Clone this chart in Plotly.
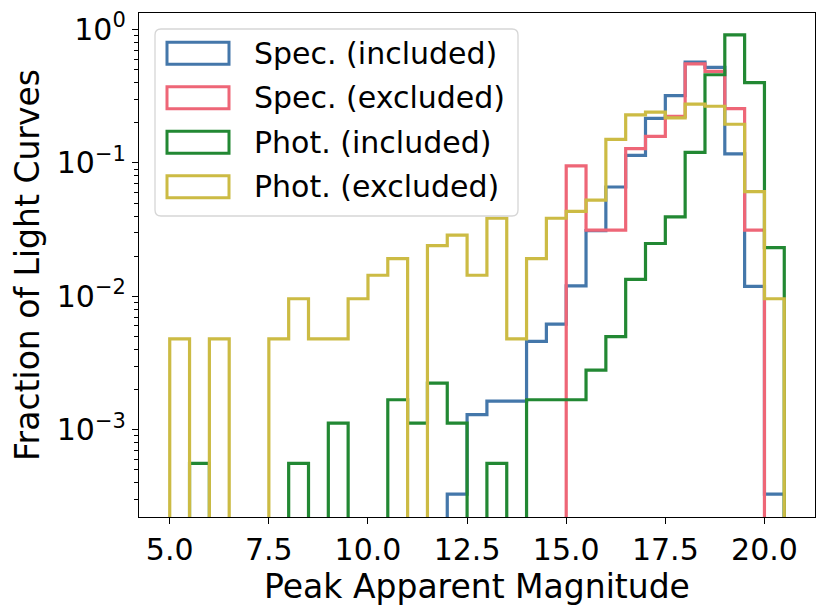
import numpy as np
import plotly.graph_objects as go

# magnitude bins: width 0.5, from 5.0 up to 20.5
bin_edges = np.arange(5.0, 20.51, 0.5)

series_names = ["Spec. (included)", "Spec. (excluded)",
                "Phot. (included)", "Phot. (excluded)"]
series_colors = ["#4477AA", "#EE6677", "#228833", "#CCBB44"]

# fraction per bin (density), one value per bin, 0 = empty bin
spec_included = [0, 0, 0, 0, 0, 0, 0, 0, 0, 0,
                 0, 0, 0, 0, 0.00033, 0.0013, 0.00164, 0.00164, 0.0046, 0.0062,
                 0.0120, 0.0311, 0.066, 0.114, 0.216, 0.32, 0.57, 0.52, 0.117, 0.0119,
                 0.00033]
spec_excluded = [0, 0, 0, 0, 0, 0, 0, 0, 0, 0,
                 0, 0, 0, 0, 0, 0, 0, 0, 0, 0,
                 0.095, 0.0314, 0.0314, 0.128, 0.158, 0.223, 0.553, 0.486, 0.255, 0.0314,
                 0]
phot_included = [0, 0.00056, 0, 0, 0, 0, 0.00056, 0, 0.00112, 0,
                 0, 0.00168, 0.00112, 0.00224, 0.00112, 0, 0.00056, 0, 0.00168, 0.00168,
                 0.00168, 0.0028, 0.0050, 0.0134, 0.0249, 0.0394, 0.120, 0.458, 0.911, 0.40,
                 0.0232]
phot_excluded = [0.0048, 0, 0.0048, 0, 0, 0.0048, 0.0096, 0.0048, 0.0048, 0.0096,
                 0.0144, 0.0192, 0, 0.024, 0.0288, 0.0144, 0.0385, 0.0048, 0.0192, 0.0385,
                 0.0433, 0.0526, 0.150, 0.229, 0.240, 0.218, 0.276, 0.266, 0.195, 0.061,
                 0.0096]

y_tickvals = [1e-3, 1e-2, 1e-1, 1]
y_ticktext = ["10<sup>\u22123</sup>", "10<sup>\u22122</sup>", "10<sup>\u22121</sup>", "10<sup>0</sup>"]
x_tickvals = [5.0, 7.5, 10.0, 12.5, 15.0, 17.5, 20.0]

FLOOR = 1e-7  # empty bins drop below the axis, like matplotlib on log scale
FONT = "DejaVu Sans"

# the page body has an 8px margin, so the figure is drawn 8px smaller
# and all pixel positions below are relative to the figure
PAD = 8
W, H = 830 - PAD, 615 - PAD


def step_trace(values, name, color):
    vals = np.asarray(values, dtype=float)
    vals = np.where(vals > 0, vals, FLOOR)
    x = np.concatenate([[bin_edges[0]], bin_edges])
    y = np.concatenate([[FLOOR], vals, [FLOOR]])
    return go.Scatter(x=x, y=y, mode="lines", name=name, showlegend=False,
                      line={'color': color, 'width': 3.2, 'shape': "hv"})


fig = go.Figure()
for vals, name, color in zip([spec_included, spec_excluded, phot_included, phot_excluded],
                             series_names, series_colors):
    fig.add_trace(step_trace(vals, name, color))

# plot area in page pixels
L, R, T, B = 139, 815, 13, 517


def xp(p):
    return (p - L) / (R - L)


def yp(p):
    return (B - p) / (B - T)


# legend drawn by hand (matplotlib style: outlined patches, rounded frame)
x0, x1, y0, y1, r = 155, 518, 29, 216, 6
frame = (f"M{xp(x0 + r)},{yp(y0)} L{xp(x1 - r)},{yp(y0)} Q{xp(x1)},{yp(y0)} {xp(x1)},{yp(y0 + r)} "
         f"L{xp(x1)},{yp(y1 - r)} Q{xp(x1)},{yp(y1)} {xp(x1 - r)},{yp(y1)} "
         f"L{xp(x0 + r)},{yp(y1)} Q{xp(x0)},{yp(y1)} {xp(x0)},{yp(y1 - r)} "
         f"L{xp(x0)},{yp(y0 + r)} Q{xp(x0)},{yp(y0)} {xp(x0 + r)},{yp(y0)} Z")
shapes = [dict(type="path", xref="paper", yref="paper", path=frame,
               fillcolor="rgba(255,255,255,0.8)", line={'color': "#d6d6d6", 'width': 1.3})]
annotations = []
for i, (name, color) in enumerate(zip(series_names, series_colors)):
    cy = 53.3 + i * 44.5
    shapes.append(dict(type="rect", xref="paper", yref="paper",
                       x0=xp(167), x1=xp(229), y0=yp(cy - 11), y1=yp(cy + 11),
                       line={'color': color, 'width': 3}, fillcolor="rgba(0,0,0,0)"))
    annotations.append(dict(xref="paper", yref="paper", x=xp(252), y=yp(cy),
                            xanchor="left", yanchor="middle", showarrow=False,
                            text=name, font={'family': FONT, 'size': 30, 'color': "black"}))

fig.update_layout(
    width=W,
    height=H,
    margin={'l': L - PAD, 'r': 830 - R, 't': T - PAD, 'b': 615 - B, 'autoexpand': False},
    paper_bgcolor="white",
    plot_bgcolor="white",
    font={'family': FONT, 'size': 30, 'color': "black"},
    shapes=shapes,
    annotations=annotations,
    xaxis={
        'range': [4.225, 21.275],
        'automargin': False,
        'tickvals': x_tickvals,
        'tickformat': ".1f",
        'ticks': "outside", 'ticklen': 6, 'tickwidth': 1.3, 'tickcolor': "black",
        'showline': True, 'mirror': True, 'linecolor': "black", 'linewidth': 1.3,
        'showgrid': False, 'zeroline': False,
        'title': {'text': "Peak Apparent Magnitude", 'font': {'size': 33}, 'standoff': 5},
    },
    yaxis={
        'type': "log",
        'automargin': False,
        'range': [np.log10(2.22e-4), np.log10(1.33)],
        'tickvals': y_tickvals,
        'ticktext': y_ticktext,
        'ticks': "outside", 'ticklen': 6, 'tickwidth': 1.3, 'tickcolor': "black",
        'minor': {'ticks': "outside", 'ticklen': 3.5, 'tickwidth': 1, 'tickcolor': "black",
                  'dtick': "D1", 'showgrid': False},
        'showline': True, 'mirror': True, 'linecolor': "black", 'linewidth': 1.3,
        'showgrid': False, 'zeroline': False,
        'title': {'text': "Fraction of Light Curves", 'font': {'size': 33}, 'standoff': 8},
    },
)

fig.write_html("out.html")
